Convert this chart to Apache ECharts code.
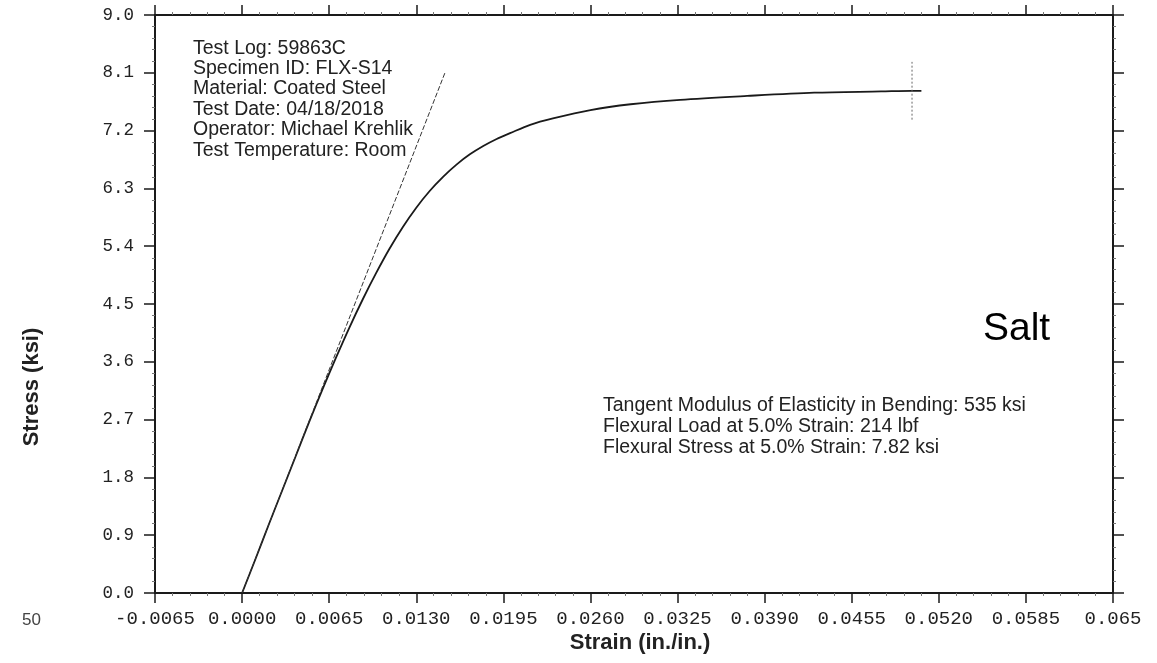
<!DOCTYPE html>
<html>
<head>
<meta charset="utf-8">
<script src="https://cdn.jsdelivr.net/npm/echarts@6/dist/echarts.min.js"></script>
<style>
html,body{margin:0;padding:0;background:#fff;}
#chart{width:1157px;height:663px;}
</style>
</head>
<body>
<div id="chart"></div>
<script>
// ---- data ----
const strainValues = [0, 0.0010, 0.0020, 0.0030, 0.0040, 0.0050, 0.0060, 0.0070, 0.0080, 0.0090, 0.0100, 0.0110, 0.0120, 0.0130, 0.0140, 0.0150, 0.0160, 0.0170, 0.0180, 0.0190, 0.0200, 0.0215, 0.0232, 0.0260, 0.0290, 0.0327, 0.0377, 0.0427, 0.0477, 0.0500, 0.0507];
const stressValues = [0, 0.53, 1.07, 1.60, 2.13, 2.66, 3.17, 3.66, 4.13, 4.57, 4.98, 5.36, 5.70, 6.00, 6.26, 6.48, 6.67, 6.83, 6.96, 7.07, 7.16, 7.29, 7.39, 7.52, 7.61, 7.68, 7.74, 7.79, 7.81, 7.82, 7.82];
const tangentStrain = [0, 0.01514];
const tangentStress = [0, 8.1];
const endMarkStrain = [0.0500, 0.0500];
const endMarkStress = [7.37, 8.27];
const xTickLabels = ['-0.0065','0.0000','0.0065','0.0130','0.0195','0.0260','0.0325','0.0390','0.0455','0.0520','0.0585','0.065'];
const yTickLabels = ['0.0','0.9','1.8','2.7','3.6','4.5','5.4','6.3','7.2','8.1','9.0'];
const infoLines = ['Test Log: 59863C','Specimen ID: FLX-S14','Material: Coated Steel','Test Date: 04/18/2018','Operator: Michael Krehlik','Test Temperature: Room'];
const resultLines = ['Tangent Modulus of Elasticity in Bending: 535 ksi','Flexural Load at 5.0% Strain: 214 lbf','Flexural Stress at 5.0% Strain: 7.82 ksi'];

const zip = (a, b) => a.map((v, i) => [v, b[i]]);
const X_MIN = -0.0065, X_MAX = 0.065, X_INT = 0.0065;
const Y_MIN = 0, Y_MAX = 9, Y_INT = 0.9;

const axisLineStyle = { color: '#1a1a1a', width: 2 };
const tickStyle = { color: '#1a1a1a', width: 1.5 };
const minorTick = { show: true, splitNumber: 5, length: 3, lineStyle: { color: '#777', width: 1 } };

const chart = echarts.init(document.getElementById('chart'), null, { renderer: 'canvas' });
chart.setOption({
  backgroundColor: '#fff',
  animation: false,
  grid: { left: 155, right: 44, top: 15, bottom: 70 },
  xAxis: [
    {
      type: 'value', position: 'bottom', min: X_MIN, max: X_MAX, interval: X_INT,
      axisLine: { show: true, onZero: false, lineStyle: axisLineStyle },
      axisTick: { show: true, length: 10, lineStyle: tickStyle },
      minorTick: minorTick,
      splitLine: { show: false },
      axisLabel: {
        margin: 16, color: '#222', fontFamily: 'Liberation Mono', fontSize: 19,
        formatter: v => xTickLabels[Math.round((v - X_MIN) / X_INT)]
      }
    },
    {
      type: 'value', position: 'top', min: X_MIN, max: X_MAX, interval: X_INT,
      axisLine: { show: true, onZero: false, lineStyle: axisLineStyle },
      axisTick: { show: true, length: 10, lineStyle: tickStyle },
      minorTick: minorTick,
      splitLine: { show: false },
      axisLabel: { show: false }
    }
  ],
  yAxis: [
    {
      type: 'value', position: 'left', min: Y_MIN, max: Y_MAX, interval: Y_INT,
      axisLine: { show: true, onZero: false, lineStyle: axisLineStyle },
      axisTick: { show: true, length: 11, lineStyle: tickStyle },
      minorTick: minorTick,
      splitLine: { show: false },
      axisLabel: {
        margin: 21, color: '#222', fontFamily: 'Liberation Mono', fontSize: 17.5,
        formatter: v => yTickLabels[Math.round((v - Y_MIN) / Y_INT)]
      }
    },
    {
      type: 'value', position: 'right', min: Y_MIN, max: Y_MAX, interval: Y_INT,
      axisLine: { show: true, onZero: false, lineStyle: axisLineStyle },
      axisTick: { show: true, length: 11, lineStyle: tickStyle },
      minorTick: minorTick,
      splitLine: { show: false },
      axisLabel: { show: false }
    }
  ],
  series: [
    {
      name: 'Stress-Strain', type: 'line', xAxisIndex: 0, yAxisIndex: 0,
      data: zip(strainValues, stressValues), showSymbol: false, smooth: 0.3,
      lineStyle: { color: '#1a1a1a', width: 1.8 }
    },
    {
      name: 'Tangent', type: 'line', xAxisIndex: 0, yAxisIndex: 0,
      data: zip(tangentStrain, tangentStress), showSymbol: false,
      lineStyle: { color: '#333', width: 1, type: [5, 2] }
    },
    {
      name: 'End', type: 'line', xAxisIndex: 0, yAxisIndex: 0,
      data: zip(endMarkStrain, endMarkStress), showSymbol: false,
      lineStyle: { color: '#666', width: 1, type: [2, 2] }
    }
  ],
  graphic: [
    { type: 'text', left: 193, top: 38, style: { text: infoLines.join('\n'), font: '19.5px "Liberation Sans", Arial, sans-serif', lineHeight: 20.4, fill: '#222' } },
    { type: 'text', left: 603, top: 395.5, style: { text: resultLines.join('\n'), font: '19.5px "Liberation Sans", Arial, sans-serif', lineHeight: 21, fill: '#222' } },
    { type: 'text', left: 983, top: 310, style: { text: 'Salt', font: '39px "Liberation Sans", Arial, sans-serif', fill: '#000' } },
    { type: 'text', left: 22, top: 612, style: { text: '50', font: '17px "Liberation Sans", Arial, sans-serif', fill: '#444' } },
    { type: 'text', x: 640, y: 643, style: { text: 'Strain (in./in.)', font: 'bold 22px "Liberation Sans", Arial, sans-serif', fill: '#222', align: 'center', verticalAlign: 'middle' } },
    { type: 'text', x: 32, y: 387, rotation: Math.PI / 2, style: { text: 'Stress (ksi)', font: 'bold 22px "Liberation Sans", Arial, sans-serif', fill: '#222', align: 'center', verticalAlign: 'middle' } }
  ]
});
</script>
</body>
</html>
